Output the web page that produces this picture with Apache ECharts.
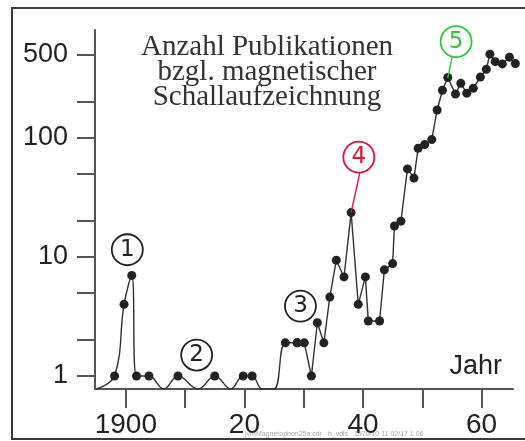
<!DOCTYPE html>
<html>
<head>
<meta charset="utf-8">
<script src="https://cdn.jsdelivr.net/npm/echarts@6/dist/echarts.min.js"></script>
<style>html,body{margin:0;padding:0;background:#fff}#c{width:525px;height:441px}</style>
</head>
<body>
<div id="c"></div>
<script>
// ---- data ----
const years = [1895, 1898.1, 1899.7, 1901.0, 1901.8, 1903.9, 1906.4, 1908.8, 1912.2, 1915.0, 1917.7, 1919.8, 1921.3, 1923.0, 1925.0, 1926.9, 1928.9,
  1930.1, 1931.3, 1932.3, 1933.4, 1934.4, 1935.5, 1936.8, 1938.0, 1939.2, 1940.4, 1940.9, 1942.8, 1943.6, 1945.0, 1945.3, 1946.4,
  1947.5, 1948.6, 1949.3, 1950.4, 1951.6, 1952.5, 1953.4, 1954.3, 1955.6, 1956.5, 1957.5, 1958.6, 1959.8, 1960.8, 1961.4, 1962.3,
  1963.5, 1964.7, 1965.7];
const publications = [0, 1, 4, 7, 1, 1, 0, 1, 0, 1, 0, 1, 1, 0, 0, 1.9, 1.9,
  1.9, 1, 2.8, 1.9, 4.6, 9.4, 6.8, 23.6, 4, 6.8, 2.9, 2.9, 7.8, 8.8, 18.2, 20,
  55, 46, 82, 88, 97, 172, 252, 322, 234, 288, 238, 262, 325, 378, 506, 438,
  419, 478, 422];
const smoothUntilYear = 1928.9;           // early part drawn as a smooth curve
const yTickValues = [1, 2, 5, 10, 20, 50, 100, 200, 500];
const yLabelValues = [1, 10, 100, 500];
const xTickValues = [1900, 1910, 1920, 1930, 1940, 1950, 1960];
const xLabelValues = [1900, 1920, 1940, 1960];
const titleLines = ['Anzahl Publikationen', 'bzgl. magnetischer', 'Schallaufzeichnung'];
const markers = ['1', '2', '3', '4', '5'];

// ---- chart ----
const Y_MIN = 0.7775, Y_MAX = 808;
const X_MIN = 1894.8, X_MAX = 1965.3;
const pt = (i) => {
  const v = publications[i];
  return v === 0 ? { value: [years[i], Y_MIN], symbol: 'none' } : { value: [years[i], v] };
};
const early = [], late = [];
years.forEach((y, i) => {
  if (y <= smoothUntilYear) early.push(pt(i));
  if (y >= smoothUntilYear) late.push(pt(i));
});

const circle = (txt, coord, color) => ({
  coord: coord, value: txt,
  symbol: 'circle', symbolSize: 31,
  itemStyle: { color: 'rgba(255,255,255,0)', borderColor: color, borderWidth: 1.8 },
  label: { show: true, position: 'inside', formatter: txt, color: color, fontSize: 23, fontFamily: 'DejaVu Sans' }
});
const RED = '#d5173d', GREEN = '#32c43c', INK = '#222';

const chart = echarts.init(document.getElementById('c'), null, { renderer: 'canvas' });
chart.setOption({
  animation: false,
  backgroundColor: '#fff',
  title: {
    text: titleLines.join('\n'),
    left: 262, top: 30, textAlign: 'center',
    textStyle: { fontFamily: 'Liberation Serif', fontSize: 29, fontWeight: 'normal', color: '#333', lineHeight: 25 }
  },
  grid: { left: 95, right: 12, top: 30, bottom: 52, containLabel: false },
  xAxis: {
    type: 'value', min: X_MIN, max: X_MAX,
    name: 'Jahr', nameLocation: 'end', nameGap: -11,
    nameTextStyle: { fontFamily: 'Liberation Sans', fontSize: 27, color: INK, align: 'right', verticalAlign: 'bottom', padding: [0, 0, 9, 0] },
    axisLine: { show: true, lineStyle: { color: '#555', width: 2 } },
    axisTick: { show: true, customValues: xTickValues, length: 19, inside: false, lineStyle: { color: '#555', width: 2 } },
    axisLabel: {
      customValues: xLabelValues, margin: 22,
      fontFamily: 'Liberation Sans', fontSize: 28, color: INK,
      formatter: v => (v === 1900 ? '1900' : String(v % 100))
    },
    splitLine: { show: false }
  },
  yAxis: {
    type: 'log', logBase: 10, min: Y_MIN, max: Y_MAX,
    axisLine: { show: true, lineStyle: { color: '#555', width: 2 } },
    axisTick: { show: true, customValues: yTickValues, length: 18, lineStyle: { color: '#555', width: 2 } },
    axisLabel: {
      customValues: yLabelValues, margin: 27,
      fontFamily: 'Liberation Sans', fontSize: 27, color: INK,
      formatter: v => String(Math.round(v))
    },
    splitLine: { show: false }
  },
  series: [
    {
      type: 'line', data: early, smooth: 0.4, clip: false,
      symbol: 'circle', symbolSize: 9,
      itemStyle: { color: INK }, lineStyle: { color: '#333', width: 1.4 },
      markPoint: {
        animation: false,
        data: [circle(markers[0], [1900.25, 11.5], INK), circle(markers[1], [1911.95, 1.5], INK), circle(markers[2], [1929.45, 3.87], INK)]
      }
    },
    {
      type: 'line', data: late, smooth: false, clip: false,
      symbol: 'circle', symbolSize: 9,
      itemStyle: { color: INK }, lineStyle: { color: '#333', width: 1.4 },
      markLine: {
        animation: false, symbol: 'none', silent: true,
        label: { show: false },
        data: [
          [{ coord: [1938.0, 23.6], lineStyle: { color: RED, width: 1.4, type: 'solid' } }, { coord: [1939.5, 52] }],
          [{ coord: [1954.3, 322], lineStyle: { color: GREEN, width: 1.4, type: 'solid' } }, { coord: [1955.05, 480] }]
        ]
      },
      markPoint: {
        animation: false,
        data: [circle(markers[3], [1939.3, 69], RED), circle(markers[4], [1955.7, 645], GREEN)]
      }
    }
  ],
  graphic: [
    { type: 'rect', z: -1, shape: { x: 12, y: 8, width: 520, height: 431 }, style: { fill: 'none', stroke: '#3a3a3a', lineWidth: 2 } },
    { type: 'text', x: 245, y: 431, style: { text: 'jvmMagnetophon25a.cdr   h_vdls   1970/10 11 02/17 1.06', fontSize: 7, fill: '#aaa', fontFamily: 'Liberation Sans' } }
  ]
});
</script>
</body>
</html>
